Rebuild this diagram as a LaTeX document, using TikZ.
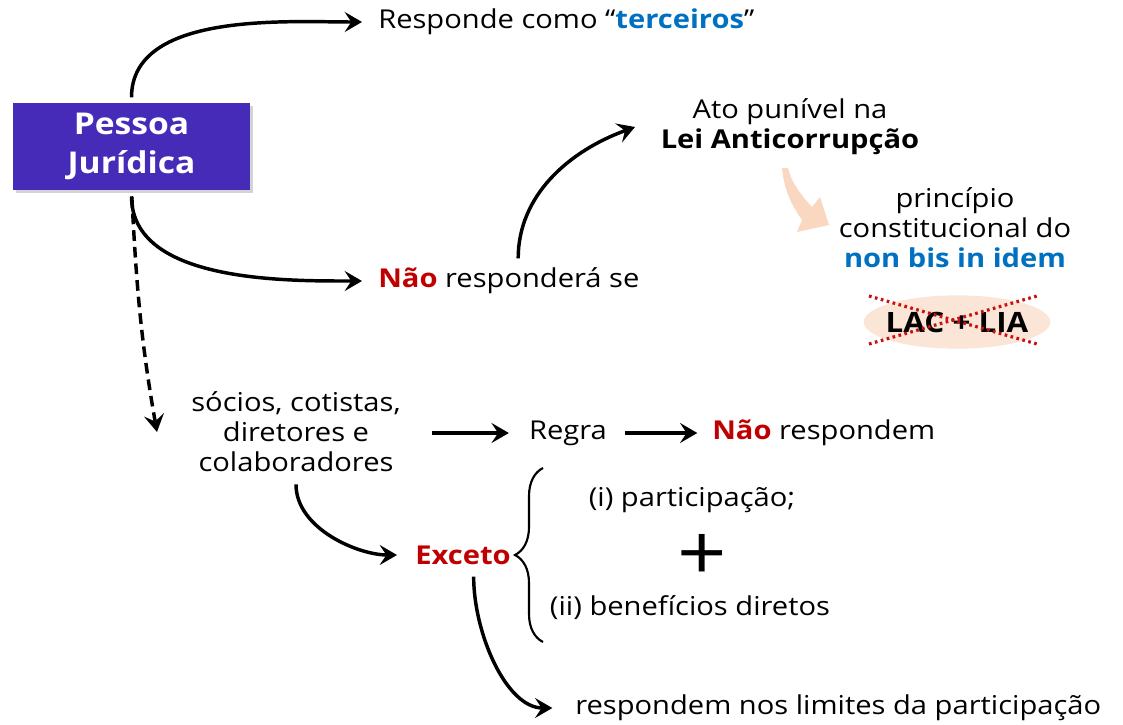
\documentclass[tikz,border=0pt]{standalone}
\usepackage{fontspec}
\setmainfont[FakeStretch=1.12]{Open Sans}
\usetikzlibrary{arrows.meta,decorations.pathreplacing,shadows,calc,shapes.geometric}
\definecolor{pjblue}{RGB}{70,43,185}
\definecolor{darkred}{RGB}{192,0,0}
\definecolor{lblue}{RGB}{0,112,192}
\definecolor{peach}{RGB}{251,229,214}
\definecolor{peacharrow}{RGB}{249,215,192}
\definecolor{dotred}{RGB}{200,16,16}
\begin{document}
\begin{tikzpicture}[x=0.75pt,y=-0.75pt,
  txt/.style={inner sep=0pt, font=\fontsize{19.5}{22.5}\selectfont, align=center},
  arr/.style={line width=2.6pt, -{Stealth[length=13pt,width=15pt,inset=5pt]}},
  dasharr/.style={arr, dash pattern=on 8pt off 4.5pt},
  pjbox/.style={fill=pjblue, text=white, minimum width=177.75pt, minimum height=65.25pt,
    font=\fontsize{22.5}{29}\selectfont\bfseries, align=center,
    drop shadow={opacity=0.35, shadow xshift=2pt, shadow yshift=-2.5pt}}
]
\useasboundingbox (0,0) rectangle (1123,724);

% main box
\node[pjbox] (pj) at (131.5,146.5) {Pessoa\\Jurídica};

% text nodes
\node[txt, anchor=west] (resp) at (378,22) {Responde como “\textcolor{lblue}{\bfseries terceiros}”};
\node[txt, anchor=west] (nao) at (378,281) {\textcolor{darkred}{\bfseries Não} responderá se};
\node[txt] (ato) at (790,127) {Ato punível na\\\bfseries Lei Anticorrupção};
\coordinate (atoend) at (635,127);
\node[txt] (princ) at (955,228) {princípio\\constitucional do\\\textcolor{lblue}{\bfseries non bis in idem}};
\node[ellipse, fill=peach, minimum width=138pt, minimum height=40pt, inner xsep=-4pt, inner ysep=0pt,
      font=\fontsize{21}{24}\selectfont\bfseries] (lac) at (957,322) {LAC + LIA};
\node[txt] (socios) at (296,432) {sócios, cotistas,\\diretores e\\colaboradores};
\node[txt] (regra) at (568,433) {Regra};
\node[txt, anchor=west] (naoresp) at (712,433) {\textcolor{darkred}{\bfseries Não} respondem};
\node[txt, font=\fontsize{19.5}{22.5}\selectfont\bfseries, text=darkred] (exceto) at (463,555) {Exceto};
\node[txt] (parti) at (692,500) {(i) participação;};
\node[inner sep=0pt, font=\fontsize{58}{58}\selectfont] (plus) at (702,557) {+};
\node[txt] (benef) at (690,608) {(ii) benefícios diretos};
\node[txt, anchor=west] (limites) at (575,708) {respondem nos limites da participação};
\coordinate (dashend) at (157,432);

% peach arrow
\fill[peacharrow] (782,168) .. controls (784,190) and (792,206) .. (802,220)
  -- (797,232) -- (829,225) -- (820,197) -- (812,207)
  .. controls (801,195) and (791,182) .. (788,168) -- cycle;

% crossed lines over LAC + LIA
\draw[dotred, line width=2.4pt, dash pattern=on 2pt off 2.6pt] (869,296) -- (1037,344);
\draw[dotred, line width=2.4pt, dash pattern=on 2pt off 2.6pt] (869,344) -- (1037,296);

% connectors
\draw[arr, shorten <=4pt, shorten >=12pt] (pj.north) to[out=90, in=180, looseness=0.9] (resp.west);
\draw[arr, shorten <=4.5pt, shorten >=12pt] (pj.south) to[out=-90, in=180, looseness=0.9] (nao.west);
\draw[arr, shorten <=7pt] ([xshift=7pt]nao.north) to[out=90, in=200] (atoend);
\draw[dasharr, shorten <=5pt] (pj.south) to[out=-87, in=100] (dashend);
\draw[arr, shorten <=23pt, shorten >=15pt] (socios.east |- regra.west) -- (regra.west);
\draw[arr, shorten <=13.5pt, shorten >=11pt] (regra.east) -- (naoresp.west);
\draw[arr, shorten <=9pt, shorten >=13.5pt] (socios.south) to[out=-90, in=180] (exceto.west);
\draw[arr, shorten <=9pt, shorten >=17pt] ([xshift=8pt]exceto.south) to[out=-90, in=180] (limites.west);

% brace
\draw[line width=1.6pt, decorate, decoration={brace, amplitude=21pt}] (543,642) -- (543,468);
\end{tikzpicture}
\end{document}
